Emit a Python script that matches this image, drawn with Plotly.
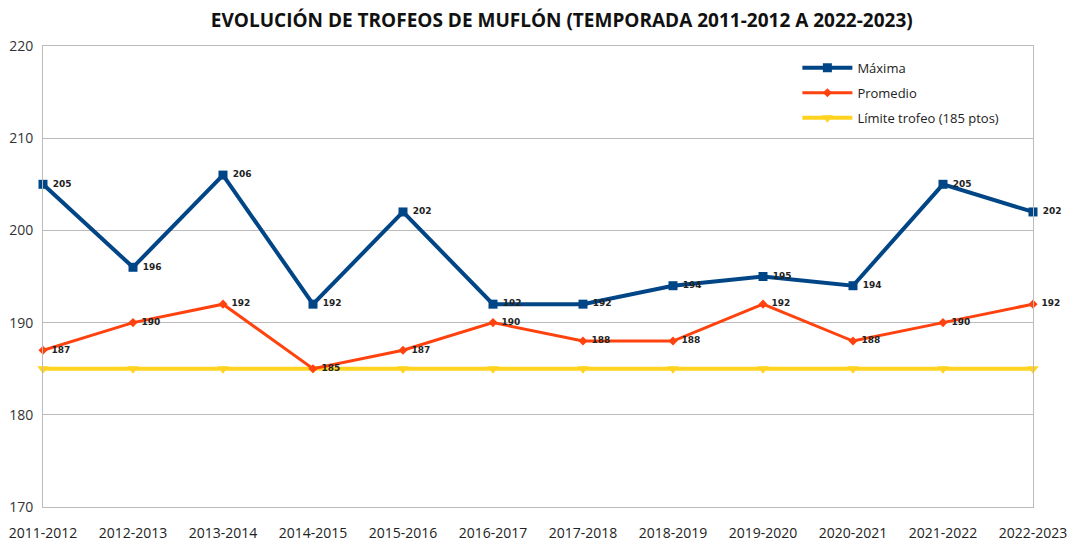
import plotly.graph_objects as go

temporadas = ["2011-2012", "2012-2013", "2013-2014", "2014-2015", "2015-2016", "2016-2017",
              "2017-2018", "2018-2019", "2019-2020", "2020-2021", "2021-2022", "2022-2023"]
maxima = [205, 196, 206, 192, 202, 192, 192, 194, 195, 194, 205, 202]
promedio = [187, 190, 192, 185, 187, 190, 188, 188, 192, 188, 190, 192]
limite = [185] * len(temporadas)

AZUL = "#004586"
NARANJA = "#ff420e"
AMARILLO = "#ffd320"

# the page body keeps its 8px default margin, so the figure is a bit smaller
W, H = 1067, 537

x = list(range(len(temporadas)))
label_font = dict(family="DejaVu Sans", size=9, color="#222222", weight="bold")

fig = go.Figure()
fig.add_trace(go.Scatter(
    x=x, y=limite, name="Límite trofeo (185 ptos)", mode="lines+markers",
    legendrank=3, legendgroup="limite",
    line=dict(color=AMARILLO, width=4),
    marker=dict(symbol="triangle-down", size=10, color=AMARILLO),
    cliponaxis=False,
))
fig.add_trace(go.Scatter(
    x=x, y=promedio, name="Promedio", mode="lines+markers+text",
    legendrank=2, legendgroup="promedio",
    line=dict(color=NARANJA, width=3),
    marker=dict(symbol="diamond", size=7, color=NARANJA),
    text=[" " + str(v) for v in promedio], textposition="middle right",
    textfont=label_font, cliponaxis=False,
))
fig.add_trace(go.Scatter(
    x=x, y=maxima, name="Máxima", mode="lines+markers+text",
    legendrank=1, legendgroup="maxima",
    line=dict(color=AZUL, width=4),
    marker=dict(symbol="square", size=9, color=AZUL),
    text=[" " + str(v) for v in maxima], textposition="middle right",
    textfont=label_font, cliponaxis=False,
))

fig.update_layout(
    width=W, height=H,
    margin=dict(l=35, r=42, t=38, b=38),
    paper_bgcolor="white", plot_bgcolor="white",
    title=dict(text="<b>EVOLUCIÓN DE TROFEOS DE MUFLÓN (TEMPORADA 2011-2012 A 2022-2023)</b>",
               x=0.519, xanchor="center", y=1 - 12.5 / H, yanchor="middle",
               font=dict(family="Open Sans", size=19, color="#111111")),
    font=dict(family="Open Sans", color="#333333"),
    legend=dict(x=0.762, y=0.985, xanchor="left", yanchor="top",
                traceorder="grouped", bgcolor="rgba(0,0,0,0)",
                font=dict(family="Open Sans", size=13, color="#222222"),
                tracegroupgap=5, itemwidth=50),
    xaxis=dict(range=[0, 11], tickmode="array", tickvals=x, ticktext=temporadas,
               showgrid=False, showline=True, mirror=True, linecolor="#bbbbbb", linewidth=1,
               ticks="", tickfont=dict(size=14, color="#222222"), zeroline=False,
               ticklabelstandoff=13, automargin=False),
    yaxis=dict(range=[170, 220], dtick=10, showgrid=True, gridcolor="#bbbbbb",
               showline=True, mirror=True, linecolor="#bbbbbb", linewidth=1, zeroline=False,
               ticks="", tickfont=dict(size=14, color="#333333"), ticklabelstandoff=6,
               automargin=False),
)

fig.write_html("out.html")
